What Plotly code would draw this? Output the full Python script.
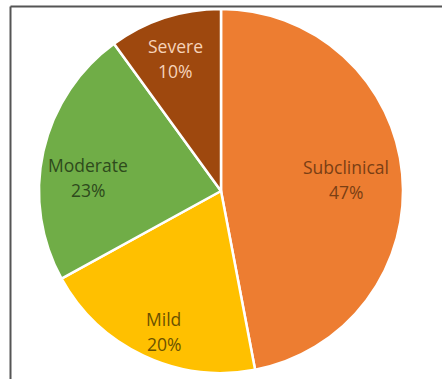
import math
import plotly.graph_objects as go

# Severity distribution
categories = ["Subclinical", "Mild", "Moderate", "Severe"]
shares = [47, 20, 23, 10]

slice_colors = ["#ED7D31", "#FFC000", "#70AD47", "#9E480E"]
label_colors = ["#7A3F14", "#6B5200", "#2E4A1C", "#F6D3BA"]
label_radius = [0.69, 0.835, 0.735, 0.77]
label_angle_shift = [0, -3, -7, -1]  # degrees, nudge along the arc

W, H = 442, 379
cx, cy, r = 221, 191, 182  # pie centre / radius in pixels (from top-left)
line_gap = 12.5  # half the spacing between the two label lines, px

dom_x = [(cx - r) / W, (cx + r) / W]
dom_y = [(H - cy - r) / H, (H - cy + r) / H]

fig = go.Figure(
    go.Pie(
        labels=categories,
        values=shares,
        sort=False,
        direction="clockwise",
        rotation=0,
        marker=dict(colors=slice_colors, line=dict(color="white", width=2.5)),
        textinfo="none",
        hoverinfo="label+percent",
        domain=dict(x=dom_x, y=dom_y),
        showlegend=False,
    )
)

# Category labels placed along each slice's bisector
total = sum(shares)
start = 0.0
annotations = []
for name, v, col, rf, da in zip(categories, shares, label_colors,
                                 label_radius, label_angle_shift):
    span = 360.0 * v / total
    mid = math.radians(start + span / 2 + da)
    px = cx + rf * r * math.sin(mid)
    py = cy - rf * r * math.cos(mid)
    pct = round(100 * v / total)
    for txt, shift in ((name, line_gap), (f"{pct}%", -line_gap)):
        annotations.append(
            dict(
                x=px / W,
                y=(H - py) / H,
                xref="paper",
                yref="paper",
                xanchor="center",
                yanchor="middle",
                yshift=shift,
                text=txt,
                showarrow=False,
                font=dict(family="Open Sans", size=17.5, color=col),
            )
        )
    start += span

# Frame lines along the top and left edges
shapes = [
    dict(type="line", xref="paper", yref="paper",
         x0=10.5 / W, x1=1.0, y0=(H - 6.5) / H, y1=(H - 6.5) / H,
         line=dict(color="#555555", width=2)),
    dict(type="line", xref="paper", yref="paper",
         x0=10.5 / W, x1=10.5 / W, y0=0, y1=(H - 6.5) / H,
         line=dict(color="#555555", width=2)),
]

fig.update_layout(
    width=W,
    height=H,
    margin=dict(l=0, r=0, t=0, b=0),
    paper_bgcolor="white",
    plot_bgcolor="white",
    annotations=annotations,
    shapes=shapes,
)

fig.write_html("out.html")
